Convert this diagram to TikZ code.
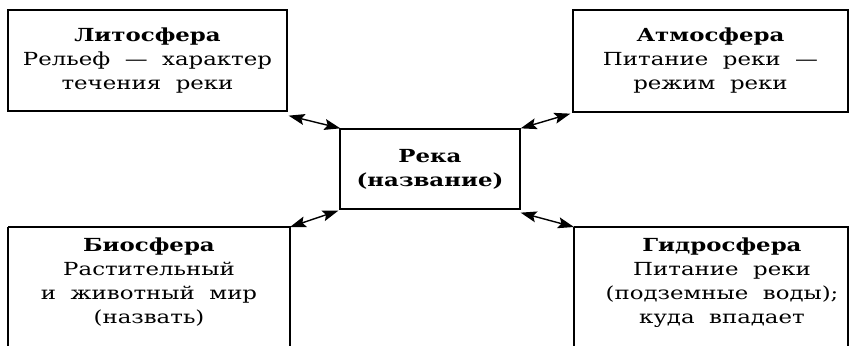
\documentclass[tikz,border=0pt]{standalone}
\usepackage{fontspec}
\setmainfont{DejaVu Serif}[FakeStretch=1.27, WordSpace=2]
\usetikzlibrary{arrows.meta}
\tikzset{
  txt/.style={align=center, inner sep=0pt, font=\fontsize{18}{24}\selectfont},
  boxed/.style={txt, draw, line width=1.3pt},
  tip/.tip={Stealth[length=16pt,width=11pt,inset=3pt]},
  link/.style={line width=1.4pt, tip-tip},
  edge/.style={line width=1.3pt}
}
\begin{document}
\begin{tikzpicture}[x=1pt,y=-1pt]
\useasboundingbox (0,0) rectangle (850,345);
\node[boxed, minimum width=279pt, minimum height=101pt] (tl) at (147.5,60.5)
  {\textbf{Литосфера}\\Рельеф — характер\\течения реки};
\node[boxed, minimum width=275pt, minimum height=102pt] (tr) at (710.5,61)
  {\textbf{Атмосфера}\\Питание реки —\\режим реки};
\node[boxed, minimum width=180pt, minimum height=80pt] (c) at (430,169)
  {\textbf{Река}\\\textbf{(название)}};
% bottom open boxes
\coordinate (blnw) at (8,227);
\coordinate (blne) at (290,227);
\coordinate (brnw) at (574,227);
\coordinate (brne) at (848,227);
\draw[edge] (blnw) -- ++(0,130) (blnw) -- (blne) -- ++(0,130);
\draw[edge] (brnw) -- ++(0,130) (brnw) -- (brne) -- ++(0,130);
\node[txt, anchor=north] (bl) at (149,238)
  {\textbf{Биосфера}\\Растительный\\и животный мир\\(назвать)};
\node[txt, anchor=north] (br) at (722,238)
  {\textbf{Гидросфера}\\Питание реки\\(подземные воды);\\куда впадает};
% connectors
\draw[link] ([shift={(1,4)}]tl.south east) -- ([shift={(1,0)}]c.north west);
\draw[link] ([shift={(-2,1)}]tr.south west) -- ([shift={(0,0)}]c.north east);
\draw[link] (blne) -- ([shift={(-1,1)}]c.south west);
\draw[link] (brnw) -- ([shift={(0,3)}]c.south east);
\end{tikzpicture}
\end{document}
